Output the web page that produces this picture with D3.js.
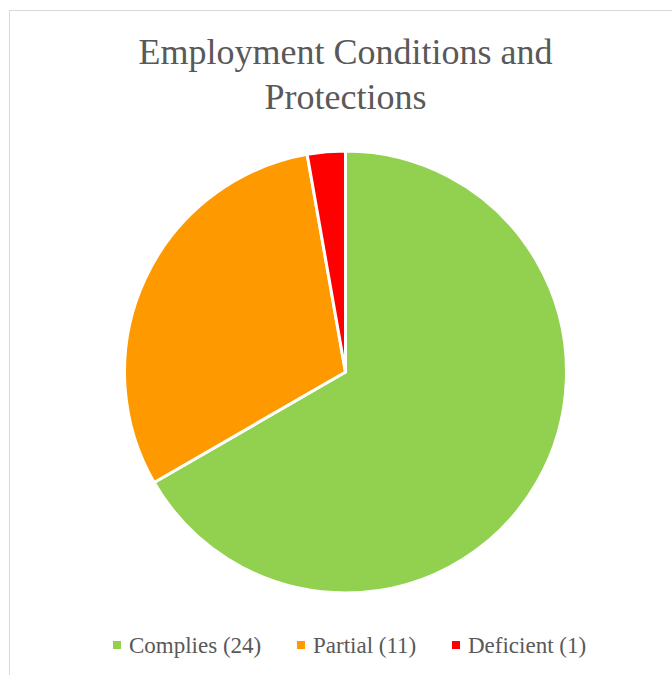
<!DOCTYPE html>
<html lang="en">
<head>
    <meta charset="UTF-8">
    <title>Employment Conditions and Protections</title>
    <script type="text/javascript" src="https://d3js.org/d3.v7.min.js"></script>
    <style>
        body{
            margin: 0;
            background-color: white;
        }
        text{
            font-family: "Liberation Serif", "Times New Roman", Times, "DejaVu Serif", serif;
            fill: #595959;
        }
    </style>
</head>
<body>
    <script type="text/javascript">
        // data
        var categories = ["Complies", "Partial", "Deficient"];
        var counts = [24, 11, 1];
        var colors = ["#92D050", "#FF9900", "#FF0000"];
        var titleLines = ["Employment Conditions and", "Protections"];

        var width = 672;
        var height = 675;
        var cx = 345.5, cy = 372, radius = 221;

        var svg = d3.select("body").append("svg")
                .attr("width", width)
                .attr("height", height);

        // chart border
        svg.append("rect")
            .attr("x", 9.5)
            .attr("y", 10.5)
            .attr("width", width)
            .attr("height", height)
            .attr("fill", "white")
            .attr("stroke", "#D9D9D9")
            .attr("stroke-width", 1);

        // title
        svg.append("text")
            .attr("text-anchor", "middle")
            .attr("font-size", 36)
            .selectAll("tspan")
            .data(titleLines)
            .enter()
            .append("tspan")
            .attr("x", cx)
            .attr("y", function(d, i){ return 64 + i * 45; })
            .text(function(d){ return d; });

        var pieData = categories.map(function(c, i){
            return {name: c, value: counts[i], color: colors[i]};
        });

        var pie = d3.pie()
                .sort(null)
                .value(function(d){ return d.value; });
        var arc = d3.arc()
                .innerRadius(0)
                .outerRadius(radius);

        var g = svg.append("g")
                .attr("transform", "translate(" + cx + "," + cy + ")");

        g.selectAll("path")
            .data(pie(pieData))
            .enter()
            .append("path")
            .attr("d", arc)
            .attr("fill", function(d){ return d.data.color; })
            .attr("stroke", "white")
            .attr("stroke-width", 3)
            .attr("stroke-linejoin", "round");

        // legend
        var lx = [113, 297, 452];
        var items = svg.append("g").selectAll("g")
            .data(pieData)
            .enter()
            .append("g")
            .attr("transform", function(d, i){ return "translate(" + lx[i] + ",653)"; });
        items.append("rect")
            .attr("x", 0)
            .attr("y", -12)
            .attr("width", 8)
            .attr("height", 8)
            .attr("fill", function(d){ return d.color; });
        items.append("text")
            .attr("x", 16)
            .attr("y", 0)
            .attr("font-size", 23)
            .text(function(d){ return d.name + " (" + d.value + ")"; });
    </script>
</body>
</html>
